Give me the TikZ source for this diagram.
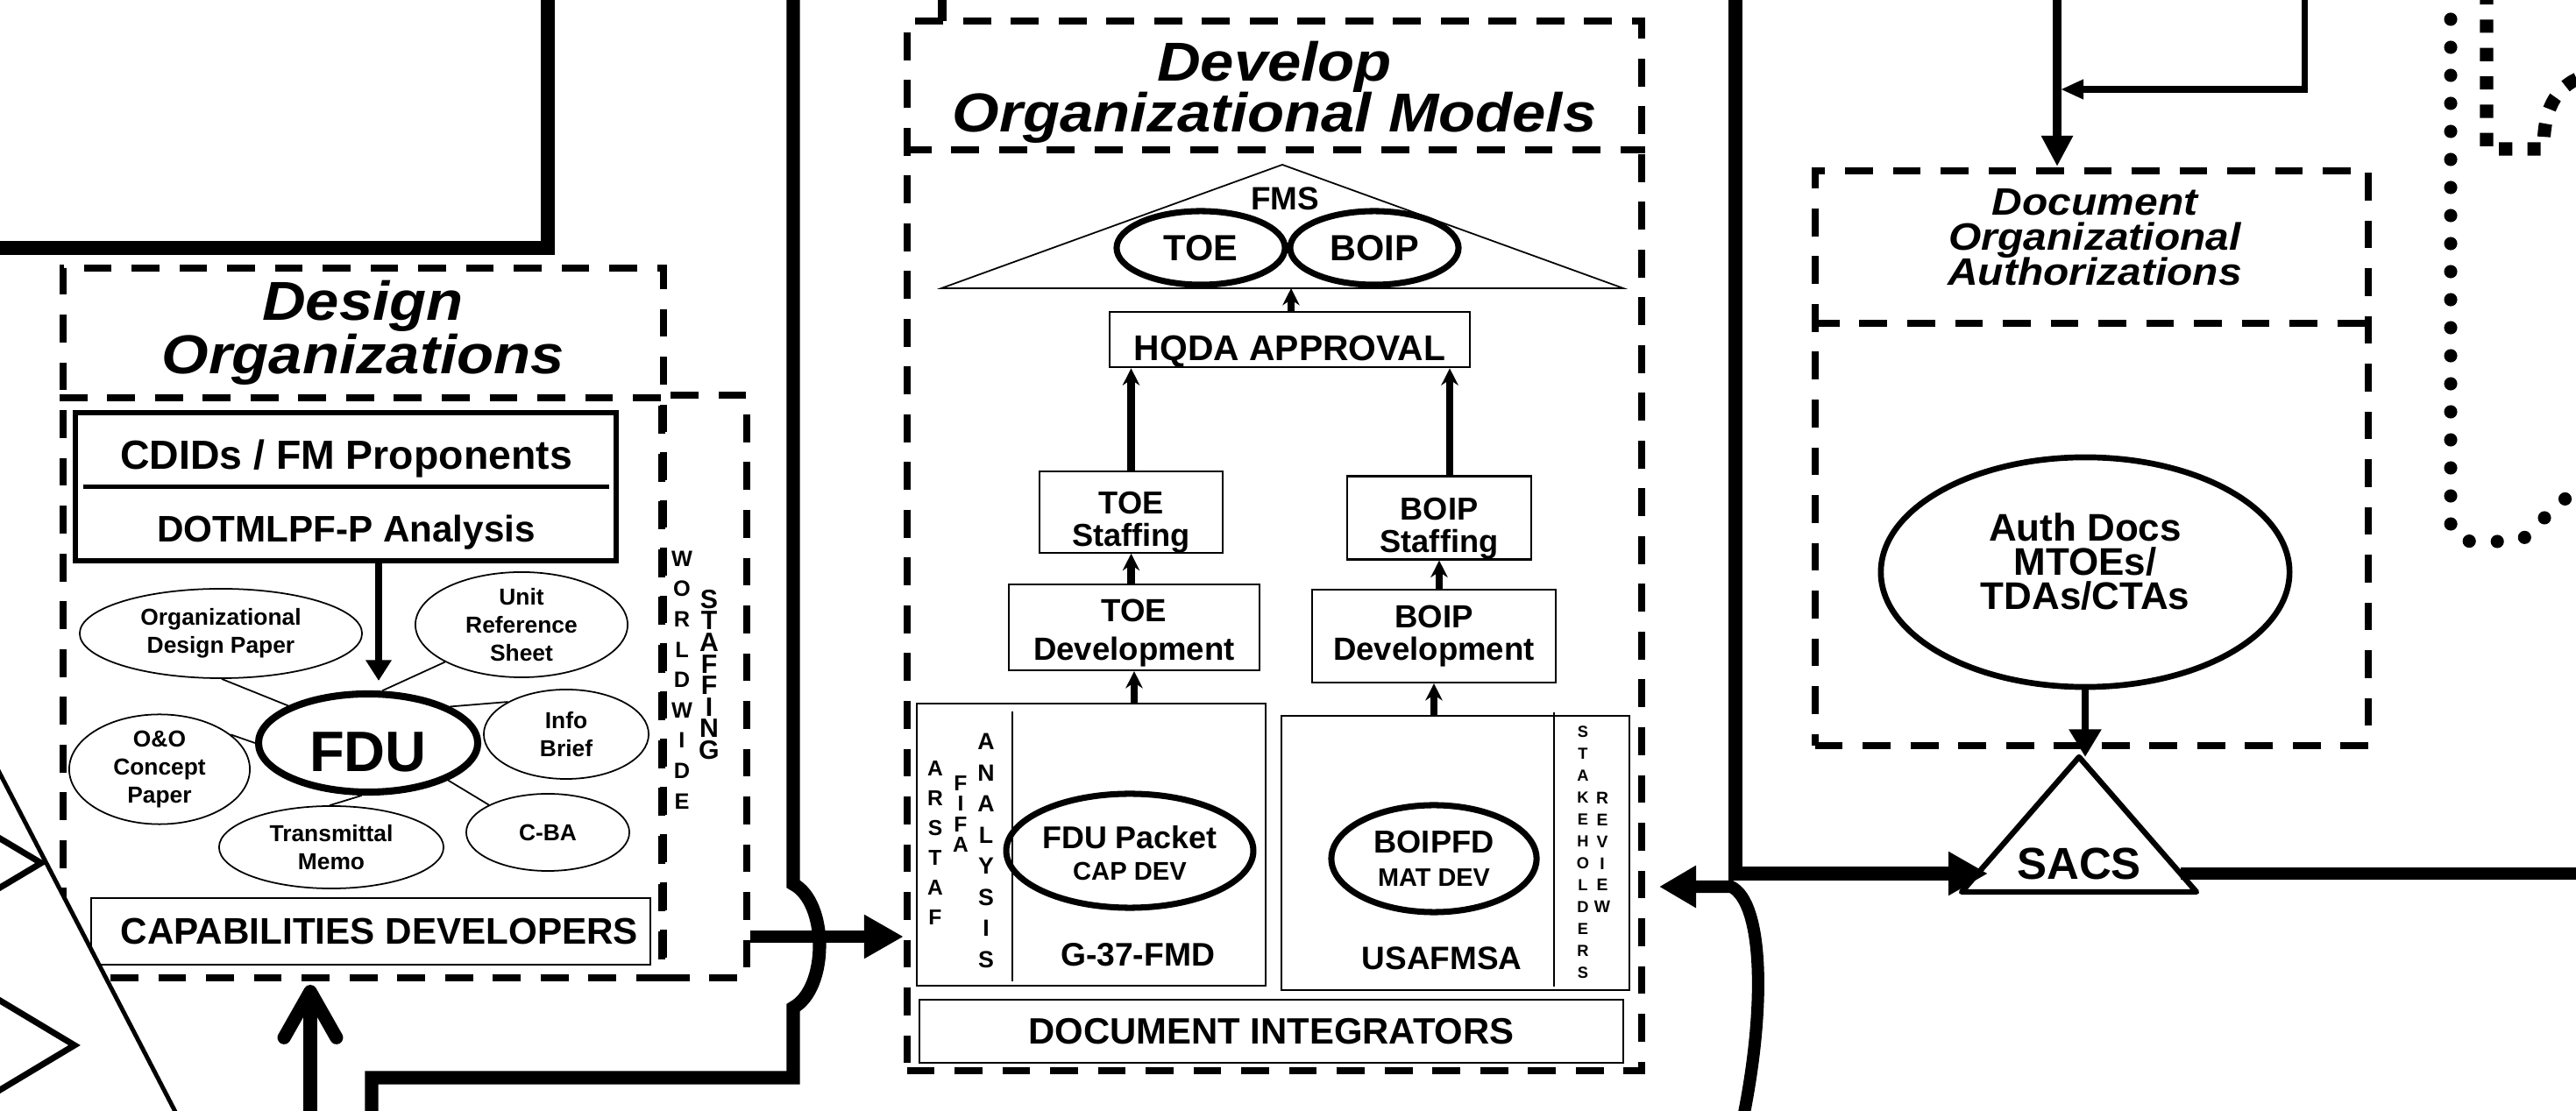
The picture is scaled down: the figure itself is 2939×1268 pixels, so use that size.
\documentclass[tikz,border=0pt]{standalone}
\usepackage{fontspec}
\setmainfont{Liberation Sans}
\newfontfamily\ttlfont{Liberation Sans}[FakeStretch=1.1]
\usetikzlibrary{arrows.meta}
\usetikzlibrary{shapes.geometric}
\usetikzlibrary{positioning}
\newcommand{\fsz}[2]{\fontsize{#1pt}{#2pt}\selectfont\lineskiplimit=-20pt\relax}
\newcommand{\lowr}[1]{\rule{0pt}{#1}}

\begin{document}
\begin{tikzpicture}[x=0.01cm, y=-0.01cm,
		db/.style  = {draw, line width=2.2pt, dash pattern=on 9pt off 6.5pt},
		bx/.style  = {rectangle, draw, line width=0.6pt, inner sep=0pt, align=center},
		el/.style  = {ellipse, draw, line width=0.5pt, inner sep=0pt, align=center, font=\bfseries\fsz{7.5}{9.2}},
		bel/.style = {ellipse, draw, line width=2pt, inner sep=0pt, align=center},
		ttl/.style = {align=center, inner sep=0pt},
		txt/.style = {align=center, inner sep=0pt},
		stk/.style = {align=center, inner sep=0pt},
		fat/.style = {line width=4.3pt},
		ln/.style  = {line width=0.5pt},
		ar/.style  = {-{Stealth[length=5.5pt, width=5.5pt]}, line width=2.4pt}
		]
		\useasboundingbox (0,0) rectangle (2939,1268);

		%Frame top left
		\draw[fat]	(-10,283)	--	(625,283)	--	(625,-10);

		%Design Organizations
		\node[db, minimum width=6.85cm, minimum height=8.10cm]	(dsgn)	at	(414.5,711)	{};
		\draw[db]	(dsgn.west |- 0,454)	--	(dsgn.east |- 0,454);
		\node[ttl, font=\ttlfont\bfseries\itshape\fsz{17.8}{17.4}]	(dsgnttl)	at	(414,380)	{Design\\Organizations};
		\node[db, minimum width=0.97cm, minimum height=6.65cm]	(wws)	at	(803.5,783.5)	{};
		\node[stk, font=\bfseries\fsz{7.2}{9.85}]	(wwtxt)		at	(778,776)	{W\\O\\R\\L\\D\\W\\I\\D\\E};
		\node[stk, font=\bfseries\fsz{8.6}{7}]		(stftxt)	at	(809,770)	{S\\T\\A\\F\\F\\I\\N\\G};

		\node[bx, line width=1.6pt, minimum width=6.17cm, minimum height=1.69cm]	(cdid)	at	(394.5,555.5)	{};
		\draw[line width=1.6pt]	([xshift=0.12cm]cdid.west)	--	([xshift=-0.11cm]cdid.east);
		\node[txt, font=\bfseries\fsz{13.2}{15}]	(cdidt)	at	(395,524)	{CDIDs / FM Proponents};
		\node[txt, font=\bfseries\fsz{12}{14}]		(dotm)	at	(395,608)	{DOTMLPF-P Analysis};

		\node[bel, line width=2.3pt, minimum width=2.5cm, minimum height=1.12cm, font=\bfseries\fsz{18.5}{20}]	(fdu)	at	(420,848)	{\lowr{18.4pt}FDU};
		\node[el, minimum width=3.22cm, minimum height=1.02cm]	(odp)	at	(252,723)	{Organizational\\Design Paper};
		\node[el, minimum width=2.42cm, minimum height=1.20cm]	(urs)	at	(595,713)	{Unit\\Reference\\Sheet};
		\node[el, minimum width=1.88cm, minimum height=1.02cm]	(info)	at	(646,838)	{Info\\Brief};
		\node[el, minimum width=2.06cm, minimum height=1.04cm]	(oo)	at	(182,878)	{O\&O\\Concept\\Paper};
		\node[el, minimum width=2.56cm, minimum height=0.94cm]	(tm)	at	(378,967)	{Transmittal\\Memo};
		\node[el, minimum width=1.86cm, minimum height=0.88cm]	(cba)	at	(625,950)	{C-BA};

		\coordinate	(fdutop)	at	(432,777);
		\draw[line width=2pt, -{Triangle[length=6.7pt, width=8pt]}]	(cdid.south -| fdutop)	--	(fdutop);
		\draw[ln]	(odp.271)	--	(fdu.155);
		\draw[ln]	(urs.206)	--	(fdu.75);
		\draw[ln]	(info.151)	--	(fdu.24);
		\draw[ln]	(oo.26)		--	(fdu.180);
		\draw[ln]	(tm.92)		--	(fdu.263);
		\draw[ln]	(cba.155)	--	(fdu.335);

		\node[bx, minimum width=6.38cm, minimum height=0.76cm, font=\bfseries\fsz{12}{14}]	(capdev)	at	(423,1063)	{\hspace*{0.2cm}CAPABILITIES DEVELOPERS};

		%Thick lines and arrows into the boxes
		\draw[fat]	(424,1290)	--	(424,1230)	--	(905,1230)	--	(905,1150) .. controls (945,1128) and (945,1030) .. (905,1009)	--	(905,-10);
		\coordinate	(dsgnin)	at	(354,1124);
		\draw[line width=4.3pt, -{Straight Barb[length=15pt, width=17pt, round]}]	(dsgnin |- 0,1290)	--	(dsgnin);

		%Left edge
		\fill[white]	(-20,844.5)	--	(211,1290)	--	(-20,1290)	--	cycle;
		\draw[line width=1.4pt]	(-20,844.5)	--	(211,1290);
		\draw[line width=2pt]	(-10,951)	--	(47,985)	--	(-10,1019);
		\draw[line width=2pt]	(-10,1136)	--	(85,1193)	--	(-10,1250);

		%Develop Organizational Models
		\node[db, minimum width=8.38cm, minimum height=11.98cm]	(dev)	at	(1454,623)	{};
		\draw[db]	(dev.west |- 0,171)	--	(dev.east |- 0,171);
		\node[ttl, font=\ttlfont\bfseries\itshape\fsz{17.8}{16.5}]	(devttl)	at	(1454,105)	{Develop\\Organizational Models};
		\draw[line width=3pt]	(1075,-10)	--	(1075,24);
		\draw[line width=3.7pt, -{Triangle[length=12.8pt, width=13.4pt]}]	(wws.east |- 0,1069)	--	(dev.west |- 0,1069);

		\draw[ln]	(1463,188)	--	(1852,329)	--	(1074,329)	--	cycle;
		\node[txt, font=\bfseries\fsz{10.5}{12}]	(fms)	at	(1466,227)	{FMS};
		\node[bel, minimum width=1.92cm, minimum height=0.84cm, font=\bfseries\fsz{11.8}{14}]	(toe)	at	(1370,283)	{TOE};
		\node[bel, minimum width=1.92cm, minimum height=0.84cm, font=\bfseries\fsz{11.8}{14}]	(boip)	at	(1568,283)	{BOIP};
		\node[bx, minimum width=4.11cm, minimum height=0.63cm, font=\bfseries\fsz{11.6}{14}]	(hqda)	at	(1471.5,387.5)	{\lowr{15.8pt}HQDA APPROVAL};
		\coordinate	(fmsin)	at	(1473,329);

		\node[bx, minimum width=2.09cm, minimum height=0.87cm, font=\bfseries\fsz{10.3}{10.5}]	(toes)	at	(1290.5,584.5)	{\lowr{13.6pt}TOE\\Staffing};
		\node[bx, minimum width=2.10cm, minimum height=0.95cm, font=\bfseries\fsz{10.3}{10.5}]	(boips)	at	(1642,591)		{\lowr{14.2pt}BOIP\\Staffing};
		\node[bx, minimum width=2.86cm, minimum height=0.98cm, font=\bfseries\fsz{10.4}{12.5}]	(toed)	at	(1294,716)		{\lowr{10.9pt}TOE\\Development};
		\node[bx, minimum width=2.78cm, minimum height=1.06cm, font=\bfseries\fsz{10.4}{10.5}]	(boipd)	at	(1636,726)		{BOIP\\Development};

		\node[bx, minimum width=3.98cm, minimum height=3.22cm]	(capbox)	at	(1245,964)		{};
		\draw[ln]	(1155,812)	--	(1155,1120);
		\node[stk, font=\bfseries\fsz{7}{9.7}]		(arstaf)	at	(1067,962)	{A\\R\\S\\T\\A\\F};
		\node[stk, font=\bfseries\fsz{7}{6.7}]		(fifa)		at	(1096,929)	{F\\I\\F\\A};
		\node[stk, font=\bfseries\fsz{7.6}{10.1}]	(anal)		at	(1125,971)	{A\\N\\A\\L\\Y\\S\\I\\S};
		\node[bel, minimum width=2.36cm, minimum height=1.30cm, font=\bfseries\fsz{10.2}{10.4}]	(fdup)	at	(1289,971)	{\lowr{9pt}FDU Packet\\{\fsz{8.3}{10.4}CAP DEV}};
		\node[txt, font=\bfseries\fsz{10.6}{12}]	(g37)	at	(1298,1090)	{G-37-FMD};

		\node[bx, minimum width=3.97cm, minimum height=3.13cm]	(matbox)	at	(1660.5,973.5)	{};
		\draw[ln]	(1773,813)	--	(1773,1126);
		\node[bel, minimum width=2.34cm, minimum height=1.22cm, font=\bfseries\fsz{10.3}{10.7}]	(boipfd)	at	(1636,980)	{BOIPFD\\{\fsz{8.2}{10.7}MAT DEV}};
		\node[txt, font=\bfseries\fsz{10.5}{12}]	(usaf)		at	(1645,1094)	{USAFMSA};
		\node[stk, font=\bfseries\fsz{5.2}{7.1}]	(stake)		at	(1806,972.5)	{S\\T\\A\\K\\E\\H\\O\\L\\D\\E\\R\\S};
		\node[stk, font=\bfseries\fsz{5.5}{7.05}]	(review)	at	(1828,973)	{R\\E\\V\\I\\E\\W};

		\node[bx, minimum width=8.03cm, minimum height=0.72cm, font=\bfseries\fsz{11.9}{14}]	(docint)	at	(1450.5,1177)	{DOCUMENT INTEGRATORS};

		\draw[ar]	(hqda.north -| fmsin)	to	(fmsin);
		\draw[ar]	(toes.north)	to	(toes.north |- hqda.south);
		\draw[ar]	([xshift=0.12cm]boips.north)	to	([xshift=0.12cm]boips.north |- hqda.south);
		\draw[ar]	(toed.north -| toes.south)	to	(toes.south);
		\draw[ar]	(boipd.north -| boips.south)	to	(boips.south);
		\draw[ar]	(capbox.north -| toed.south)	to	(toed.south);
		\draw[ar]	(matbox.north -| boipd.south)	to	(boipd.south);

		%Document Organizational Authorizations
		\node[db, minimum width=6.31cm, minimum height=6.56cm]	(doa)	at	(2386.5,523)	{};
		\draw[db]	(doa.west |- 0,369)	--	(doa.east |- 0,369);
		\node[ttl, font=\ttlfont\bfseries\itshape\fsz{12.4}{11.4}]	(doattl)	at	(2390,271)	{Document\\Organizational\\Authorizations};
		\node[ellipse, draw, line width=1.9pt, inner sep=0pt, minimum width=4.66cm, minimum height=2.62cm]	(auth)	at	(2379,653)	{};
		\node[txt, font=\bfseries\fsz{12.5}{11}]	(authtxt)	at	(2379,641)	{Auth Docs\\MTOEs/\\TDAs/CTAs};

		\draw[line width=1.8pt, line join=round]	(2372,864)	--	(2506,1018)	--	(2238,1018)	--	cycle;
		\node[txt, font=\bfseries\fsz{14.5}{16}]	(sacs)	at	(2372,986)	{SACS};
		\coordinate	(sacstop)	at	(2372,864);
		\coordinate	(sacsin)	at	(2268,997);
		\coordinate	(sacsout)	at	(2488,997);
		\coordinate	(doain)		at	(2347,190);
		\coordinate	(topin)		at	(2351,102);
		\coordinate	(devin)		at	(1893,1012);

		\draw[line width=2.3pt, -{Triangle[length=9pt, width=10pt]}]	(auth.south)	--	(auth.south |- sacstop);
		\draw[line width=4.5pt, -{Triangle[length=12.8pt, width=13.4pt]}]	(1980,-10)	--	(1980,997)	--	(sacsin);
		\draw[line width=4pt]	(sacsout)	--	(2950,997);
		\draw[line width=2.6pt, -{Triangle[length=10pt, width=9.7pt]}]	(doain |- 0,-10)	--	(doain);
		\draw[line width=2pt, -{Triangle[length=7.4pt, width=6pt]}]	(2629,-10)	--	(2629,102)	--	(topin);
		\draw[line width=4pt, -{Triangle[length=12pt, width=13pt]}]	(1988,1280) .. controls (2015,1150) and (2012,1030) .. (1975,1012)	--	(devin);

		%Right edge
		\draw[line width=4.3pt, line cap=round, dash pattern=on 0pt off 9.1pt]	(2796,-10)	--	(2796,595) .. controls (2796,612) and (2805,618) .. (2825,618)	--	(2865,618) .. controls (2895,618) and (2905,570) .. (2945,562);
		\draw[line width=4.3pt, dash pattern=on 4.3pt off 4.9pt]	(2837,-10)	--	(2837,170)	--	(2902,170) .. controls (2902,125) and (2915,100) .. (2945,88);
\end{tikzpicture}
\end{document}
